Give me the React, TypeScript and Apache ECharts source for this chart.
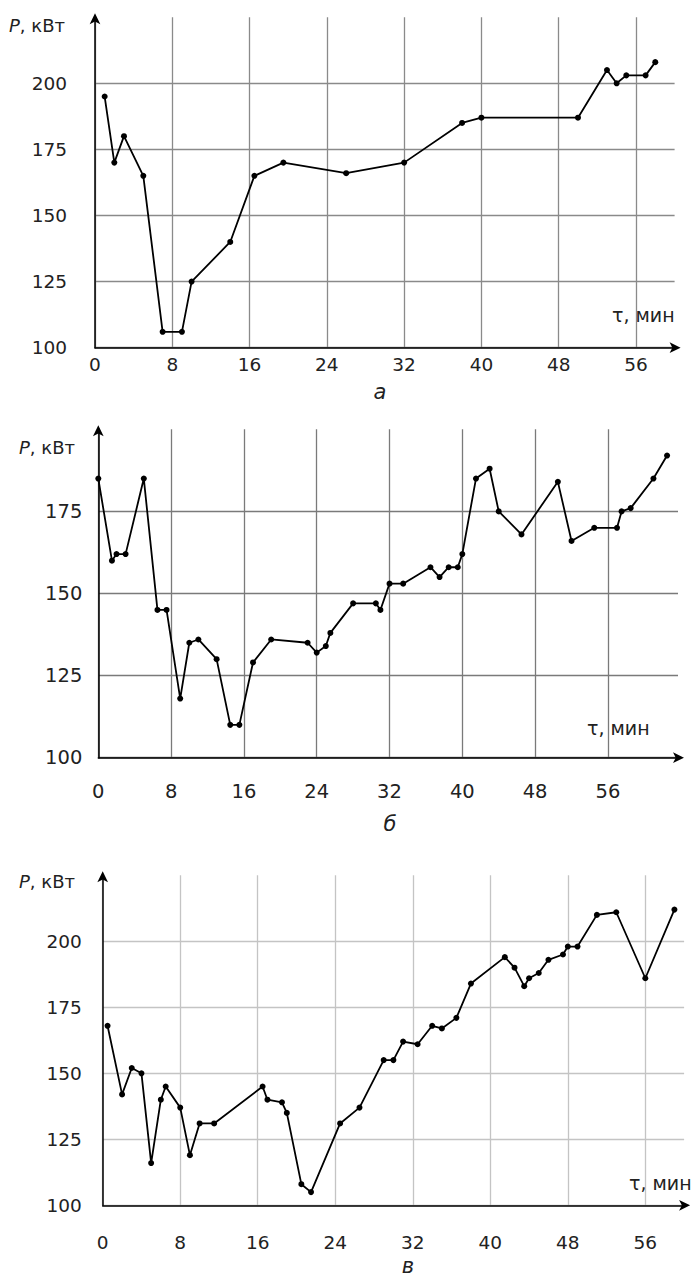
import React, { useEffect, useRef } from "react";
import * as echarts from "echarts";

// Panel а
const timeA = [1, 2, 3, 5, 7, 9, 10, 14, 16.5, 19.5, 26, 32, 38, 40, 50, 53, 54, 55, 57, 58];
const powerA = [195, 170, 180, 165, 106, 106, 125, 140, 165, 170, 166, 170, 185, 187, 187, 205, 200, 203, 203, 208];

// Panel б
const timeB = [0, 1.5, 2, 3, 5, 6.5, 7.5, 9, 10, 11, 13, 14.5, 15.5, 17, 19, 23, 24, 25, 25.5, 28, 30.5, 31, 32, 33.5, 36.5, 37.5, 38.5, 39.5, 40, 41.5, 43, 44, 46.5, 50.5, 52, 54.5, 57, 57.5, 58.5, 61, 62.5];
const powerB = [185, 160, 162, 162, 185, 145, 145, 118, 135, 136, 130, 110, 110, 129, 136, 135, 132, 134, 138, 147, 147, 145, 153, 153, 158, 155, 158, 158, 162, 185, 188, 175, 168, 184, 166, 170, 170, 175, 176, 185, 192];

// Panel в
const timeC = [0.5, 2, 3, 4, 5, 6, 6.5, 8, 9, 10, 11.5, 16.5, 17, 18.5, 19, 20.5, 21.5, 24.5, 26.5, 29, 30, 31, 32.5, 34, 35, 36.5, 38, 41.5, 42.5, 43.5, 44, 45, 46, 47.5, 48, 49, 51, 53, 56, 59];
const powerC = [168, 142, 152, 150, 116, 140, 145, 137, 119, 131, 131, 145, 140, 139, 135, 108, 105, 131, 137, 155, 155, 162, 161, 168, 167, 171, 184, 194, 190, 183, 186, 188, 193, 195, 198, 198, 210, 211, 186, 212];

const xTicks = [0, 8, 16, 24, 32, 40, 48, 56];
const yTicks = [100, 125, 150, 175, 200];

const captions = ["а", "б", "в"];
const xTitle = "τ, мин";

const FONT = "'DejaVu Sans', 'Liberation Sans', Arial, sans-serif";

export default function App() {
  const ref = useRef<HTMLDivElement>(null);
  useEffect(() => {
    if (!ref.current) return;
    const chart = echarts.init(ref.current, null, { renderer: "svg" });

    const grids = [
      { left: 95, top: 17.2, width: 579.6, height: 330.5 },
      { left: 98.3, top: 429.3, width: 579.7, height: 328.4 },
      { left: 102.7, top: 875.3, width: 581.4, height: 330 },
    ];
    const xMax = [60, 63.7, 60];
    const yMax = [225, 200, 225];
    const gridColor = ["#8a8a8a", "#7a7a7a", "#c4c4c4"];
    const yLabelMargin = [28, 16, 21];
    const xLabelMargin = [7, 24, 28];
    const tickFont = [18.5, 19.5, 18.5];
    const data = [
      timeA.map((t, i) => [t, powerA[i]]),
      timeB.map((t, i) => [t, powerB[i]]),
      timeC.map((t, i) => [t, powerC[i]]),
    ];

    const xAxis = grids.map((_, i) => ({
      type: "value",
      gridIndex: i,
      min: xTicks[0],
      max: xMax[i],
      interval: xTicks[1] - xTicks[0],
      axisLine: { show: true, lineStyle: { color: "#000", width: 1.5 }, symbol: ["none", "arrow"], symbolSize: [8, 11], symbolOffset: [0, 6] },
      axisTick: { show: false },
      axisLabel: { color: "#222", fontSize: tickFont[i], fontFamily: FONT, margin: xLabelMargin[i], showMaxLabel: false },
      splitLine: { show: true, showMaxLine: false, lineStyle: { color: gridColor[i], width: 1.3 } },
    }));
    const yAxis = grids.map((_, i) => ({
      type: "value",
      gridIndex: i,
      min: yTicks[0],
      max: yMax[i],
      interval: yTicks[1] - yTicks[0],
      axisLine: { show: true, onZero: false, lineStyle: { color: "#000", width: 1.5 }, symbol: ["none", "arrow"], symbolSize: [8, 11], symbolOffset: [0, 4] },
      axisTick: { show: false },
      axisLabel: { color: "#222", fontSize: tickFont[i], fontFamily: FONT, margin: yLabelMargin[i], showMaxLabel: false },
      splitLine: { show: true, showMaxLine: false, lineStyle: { color: gridColor[i], width: 1.3 } },
    }));
    const series = data.map((d, i) => ({
      type: "line",
      xAxisIndex: i,
      yAxisIndex: i,
      data: d,
      symbol: "circle",
      symbolSize: 6,
      showSymbol: true,
      lineStyle: { color: "#000", width: 1.8 },
      itemStyle: { color: "#000" },
      z: 5,
    }));

    const yTitlePos = [[9, 25], [19, 447.5], [19, 881]];
    const xTitlePos = [[612, 315], [587, 728], [629, 1183]];
    const capPos = [[380, 392], [390, 824], [408, 1266]];
    const graphic: any[] = [];
    for (let i = 0; i < 3; i++) {
      graphic.push({
        type: "text",
        x: yTitlePos[i][0],
        y: yTitlePos[i][1],
        style: {
          text: "{it|P}, кВт",
          font: `18px ${FONT}`,
          fill: "#222",
          verticalAlign: "middle",
          rich: { it: { fontStyle: "italic", fontSize: 18, fontFamily: FONT, fill: "#222" } },
        },
      });
      graphic.push({
        type: "text",
        x: xTitlePos[i][0],
        y: xTitlePos[i][1],
        style: { text: xTitle, font: `19px ${FONT}`, fill: "#222", verticalAlign: "middle" },
      });
      graphic.push({
        type: "text",
        x: capPos[i][0],
        y: capPos[i][1],
        style: { text: captions[i], font: `italic 21px ${FONT}`, fill: "#222", align: "center", verticalAlign: "middle" },
      });
    }

    chart.setOption({
      animation: false,
      backgroundColor: "#fff",
      grid: grids,
      xAxis,
      yAxis,
      series,
      graphic,
    });
    return () => chart.dispose();
  }, []);
  return <div ref={ref} style={{ position: "absolute", left: 0, top: 0, width: 699, height: 1281 }} />;
}
